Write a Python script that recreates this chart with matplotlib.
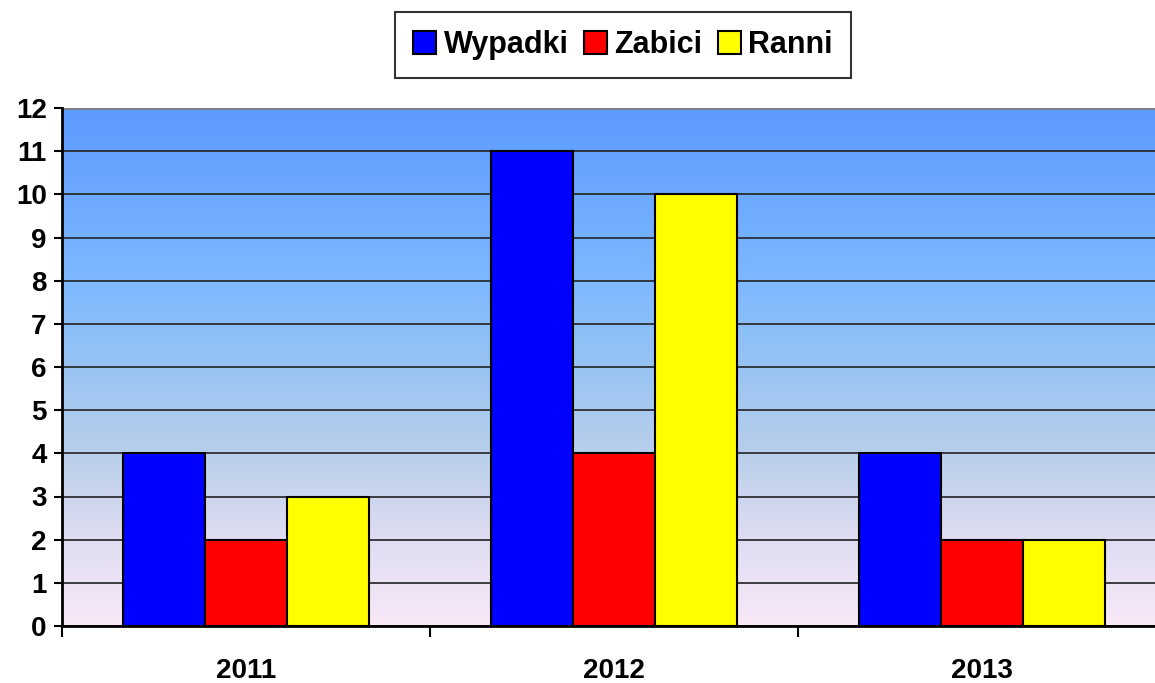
import matplotlib
matplotlib.use("Agg")
import matplotlib.pyplot as plt
import numpy as np
from matplotlib.colors import LinearSegmentedColormap

# dane z wykresu
lata = ["2011", "2012", "2013"]
wypadki = [4, 11, 4]
zabici = [2, 4, 2]
ranni = [3, 10, 2]

serie = ["Wypadki", "Zabici", "Ranni"]
kolory = ["#0000FF", "#FF0000", "#FFFF00"]

plt.rcParams['font.family'] = ['Liberation Sans', 'DejaVu Sans']
plt.rcParams['font.weight'] = 'bold'

fig = plt.figure(figsize=(11.55, 6.83), dpi=100)
ax = fig.add_axes([62 / 1155, 57 / 683, 1093 / 1155, 518 / 683])

# tlo z gradientem (od rozowego na dole do niebieskiego na gorze)
gradient = LinearSegmentedColormap.from_list("tlo", [
    (0.0, "#F9E8F8"),
    (0.17, "#DEDDF1"),
    (0.33, "#BACFEB"),
    (0.5, "#98C4F3"),
    (0.67, "#7DB8FF"),
    (1.0, "#5C9AFF"),
])
ax.imshow(np.linspace(0, 1, 256).reshape(-1, 1), cmap=gradient, aspect='auto',
          origin='lower', extent=[-0.5, 2.47, 0, 12], zorder=0)

x = np.arange(len(lata))
szer = 0.222
for i, (nazwa, wart) in enumerate(zip(serie, [wypadki, zabici, ranni])):
    ax.bar(x + (i - 1) * szer, wart, szer, color=kolory[i], edgecolor='black',
           linewidth=1.5, label=nazwa, zorder=3)

ax.set_xlim(-0.5, 2.47)
ax.set_ylim(0, 12)
ax.set_yticks(range(0, 13))
ax.yaxis.grid(True, color='#222222', linewidth=1.2, zorder=1)
ax.axhline(12, color='#808080', linewidth=2, zorder=2)
ax.set_axisbelow(True)

# podzialki kategorii miedzy latami
ax.set_xticks([-0.5, 0.5, 1.5])
ax.set_xticklabels([])
ax.set_xticks(x, minor=True)
ax.set_xticklabels(lata, minor=True)
ax.tick_params(axis='x', which='major', length=8, width=1.5, direction='out')
ax.tick_params(axis='x', which='minor', length=0, pad=23, labelsize=20)
ax.tick_params(axis='y', length=6, width=1.5, labelsize=20, pad=5)

for s in ['top', 'right']:
    ax.spines[s].set_visible(False)
for s in ['left', 'bottom']:
    ax.spines[s].set_linewidth(2)
ax.spines['left'].set_zorder(4)
ax.spines['bottom'].set_zorder(4)

leg = fig.legend(loc='center', bbox_to_anchor=(623 / 1155, 1 - 45 / 683), ncol=3,
                 fontsize=22, frameon=True, fancybox=False, edgecolor='black',
                 handlelength=0.75, handleheight=0.75, handletextpad=0.25,
                 columnspacing=0.5, borderpad=0.6)
leg.get_frame().set_linewidth(1.5)

fig.savefig("out.png", dpi=100)
